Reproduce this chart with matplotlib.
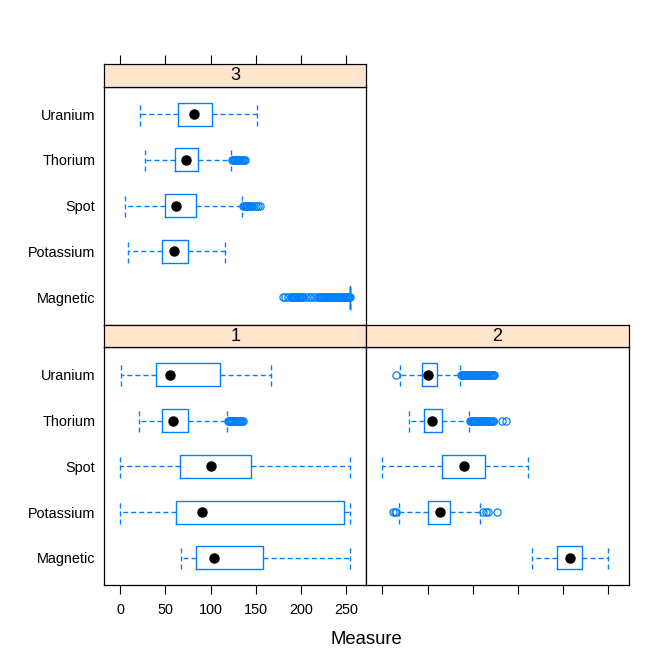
import matplotlib
matplotlib.use("Agg")
import matplotlib.pyplot as plt

plt.rcParams['font.family'] = ['Liberation Sans', 'DejaVu Sans']

categories = ["Magnetic", "Potassium", "Spot", "Thorium", "Uranium"]
x_ticks = [0, 50, 100, 150, 200, 250]
x_label = "Measure"

# ---- panel "1" ----
p1_whislo = [67, 0, 0, 20.7, 1]
p1_q1 = [84, 62, 66.3, 46, 39]
p1_med = [104.4, 90.4, 100.4, 58, 55.5]
p1_q3 = [158.5, 248.5, 144.4, 75, 110]
p1_whishi = [255, 255, 255, 118.5, 166.7]
p1_out_magnetic = []
p1_out_potassium = []
p1_out_spot = []
p1_out_thorium = [119, 120, 121, 122, 123, 124, 125, 126, 127, 128, 129, 130,
                  131, 132, 133, 134, 135, 136]
p1_out_uranium = []

# ---- panel "2" ----
p2_whislo = [165.2, 18.2, 0, 29, 19]
p2_q1 = [193, 50.8, 66, 46, 44]
p2_med = [208, 64, 90.4, 55.2, 51]
p2_q3 = [221.5, 74.5, 113.4, 66.3, 61]
p2_whishi = [250.4, 108, 161, 96, 86]
p2_out_magnetic = []
p2_out_potassium = [12, 13.5, 15, 111.5, 114.5, 117, 127]
p2_out_spot = []
p2_out_thorium = [97, 98, 99, 100, 101, 102, 103, 104, 105, 106, 107, 108, 109,
                  110, 111, 112, 113, 114, 115, 116, 117, 118, 119, 120, 121,
                  122, 123, 132, 136.5]
p2_out_uranium = [15, 87, 88, 89, 90, 91, 92, 93, 94, 95, 96, 97, 98, 99, 100,
                  101, 102, 103, 104, 105, 106, 107, 108, 109, 110, 111, 112,
                  113, 114, 115, 116, 117, 118, 119, 120, 121, 122, 123, 124]

# ---- panel "3" ----
p3_whislo = [255, 8.9, 4.8, 27, 21.5]
p3_q1 = [255, 46.3, 49, 61, 64]
p3_med = [255, 60, 62, 73.3, 82]
p3_q3 = [255, 74.8, 83.7, 86.3, 101.5]
p3_whishi = [255, 115.6, 134.4, 123, 152]
p3_out_magnetic = [180, 183, 186, 189, 190, 191, 192, 193, 194, 195, 196, 197,
                   198, 199, 200, 201, 202, 203, 206, 209, 212, 215, 218, 220,
                   221, 222, 223, 224, 225, 226, 227, 228, 229, 230, 231, 232,
                   233, 234, 235, 236, 237, 238, 239, 240, 241, 242, 243, 244,
                   245, 246, 247, 248, 249, 250, 251, 252, 253, 254, 255]
p3_out_potassium = []
p3_out_spot = [136, 137, 138, 139, 140, 141, 142, 143, 144, 145, 146, 148,
               150, 152.5, 155]
p3_out_thorium = [124, 125, 126, 127, 128, 129, 130, 131, 132, 133, 134, 135,
                  136, 137, 138]
p3_out_uranium = []

BLUE = "#0080ff"
STRIP = "#ffe5cc"
W = H = 664
fig = plt.figure(figsize=(6.64, 6.64), dpi=100)


def add_ax(x0, y0, x1, y1):
    return fig.add_axes([x0 / W, 1 - y1 / H, (x1 - x0) / W, (y1 - y0) / H])


XLIM = (-17.85, 272.85)
YLIM = (0.4, 5.6)


def draw_panel(ax, whislo, q1, med, q3, whishi, outs):
    stats = []
    for i, c in enumerate(categories):
        stats.append(dict(label=c, whislo=whislo[i], q1=q1[i], med=med[i],
                          q3=q3[i], whishi=whishi[i], fliers=outs[i]))
    pos = list(range(1, len(categories) + 1))
    dash = (0, (3.6, 2.2))
    kw = dict(positions=pos, widths=0.5, manage_ticks=False,
              boxprops=dict(color=BLUE, lw=1.0),
              whiskerprops=dict(color=BLUE, lw=1.0, linestyle=dash),
              capprops=dict(color=BLUE, lw=1.0, linestyle=dash),
              medianprops=dict(lw=0),
              flierprops=dict(marker='o', mfc='none', mec=BLUE, ms=5.2,
                              mew=0.9, linestyle='none', zorder=4),
              capwidths=0.5)
    try:
        ax.bxp(stats, orientation='horizontal', **kw)
    except TypeError:
        ax.bxp(stats, vert=False, **kw)
    # median dots (a box collapsed onto its outliers is hidden by them)
    dx = [m for m, a, b in zip(med, q1, q3) if b > a]
    dy = [p for p, a, b in zip(pos, q1, q3) if b > a]
    ax.plot(dx, dy, 'o', color='black', ms=6.5, ls='none', zorder=3)
    ax.set_xlim(*XLIM)
    ax.set_ylim(*YLIM)
    for s in ax.spines.values():
        s.set_linewidth(0.9)


def strip(ax, text, top_ticks=False):
    ax.set_facecolor(STRIP)
    ax.set_xlim(*XLIM)
    ax.set_ylim(0, 1)
    ax.set_yticks([])
    if top_ticks:
        ax.xaxis.tick_top()
        ax.set_xticks(x_ticks)
        ax.tick_params(axis='x', direction='out', length=6.5, width=0.8,
                       labeltop=False)
    else:
        ax.set_xticks([])
    for s in ax.spines.values():
        s.set_linewidth(0.9)
    ax.text(0.5, 0.5, text, transform=ax.transAxes, ha='center',
            va='center', fontsize=13)


# panel 3 (top-left)
ax3 = add_ax(104.3, 86.7, 366.3, 324.7)
s3 = add_ax(104.3, 64.3, 366.3, 86.7)
draw_panel(ax3, p3_whislo, p3_q1, p3_med, p3_q3, p3_whishi,
           [p3_out_magnetic, p3_out_potassium, p3_out_spot, p3_out_thorium,
            p3_out_uranium])
strip(s3, "3", top_ticks=True)
ax3.set_xticks([])

# panel 1 (bottom-left)
ax1 = add_ax(104.3, 347.3, 366.3, 585.3)
s1 = add_ax(104.3, 325, 366.3, 347.3)
draw_panel(ax1, p1_whislo, p1_q1, p1_med, p1_q3, p1_whishi,
           [p1_out_magnetic, p1_out_potassium, p1_out_spot, p1_out_thorium,
            p1_out_uranium])
strip(s1, "1")
ax1.set_xticks(x_ticks)
ax1.tick_params(axis='x', direction='out', length=6.5, width=0.8,
                labelsize=10.4, pad=6)

# panel 2 (bottom-right)
ax2 = add_ax(366.3, 347.3, 628.7, 585.3)
s2 = add_ax(366.3, 325, 628.7, 347.3)
draw_panel(ax2, p2_whislo, p2_q1, p2_med, p2_q3, p2_whishi,
           [p2_out_magnetic, p2_out_potassium, p2_out_spot, p2_out_thorium,
            p2_out_uranium])
strip(s2, "2")
ax2.set_xticks(x_ticks)
ax2.tick_params(axis='x', direction='out', length=6.5, width=0.8,
                labelbottom=False)
ax2.set_yticks([])

for ax in (ax1, ax3):
    ax.set_yticks(range(1, len(categories) + 1))
    ax.set_yticklabels(categories)
    ax.tick_params(axis='y', length=0, pad=6.5, labelsize=10.4)

fig.text(366.5 / W, 1 - 639 / H, x_label, ha='center', va='center',
         fontsize=13.3)

fig.savefig("out.png", dpi=100)
